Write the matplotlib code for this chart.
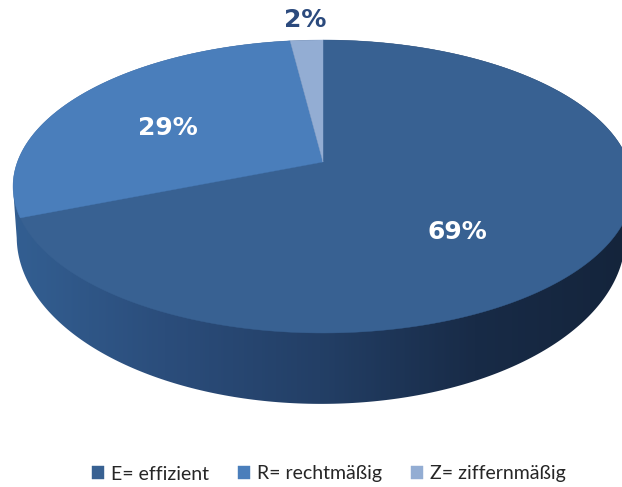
import numpy as np
import matplotlib; matplotlib.use('Agg')
import matplotlib.pyplot as plt
from matplotlib.colors import LinearSegmentedColormap
from matplotlib.patches import PathPatch, Polygon
from matplotlib.path import Path

labels = ['E= effizient', 'R= rechtmäßig', 'Z= ziffernmäßig']
values = [69, 29, 2]
colors = ['#386192', '#4a7ebb', '#93add3']
text_colors = ['white', 'white', '#2b4a7d']
text_pos = [(457, 232), (168, 128), (305, 20)]

W, H = 622, 487
APEX = (323, 162)


def project(u, v, x0=APEX[0], y0=APEX[1], a=142.4, b=0.1672, c=305.6):
    # tilted disc seen in perspective, unit circle -> pixels
    k = 1 + b * v
    return x0 + u * c / k, y0 - v * a / k


def rim(t1, t2, **kw):
    t = np.radians(np.linspace(t1, t2, 200))
    return np.column_stack(project(np.sin(t), np.cos(t), **kw))


plt.rcParams.update({'font.family': 'DejaVu Sans'})
fig = plt.figure(figsize=(6.22, 4.87), dpi=100)
ax = fig.add_axes([0, 0, 1, 1])
wedges, _ = ax.pie(values, colors=colors, startangle=90, counterclock=False)

# side wall first, the top face goes over it
LOW = dict(x0=321, y0=209, a=162.3, b=0.1672, c=300)
hull = np.vstack([rim(100, 260, **LOW), rim(260, 460)])
side_cmap = LinearSegmentedColormap.from_list('side', ['#335f92', '#2b4d7b', '#233f66', '#182b47', '#14243b'])
img = ax.imshow(np.linspace(0, 1, 300)[None, :], extent=(10, 630, 420, 30), cmap=side_cmap, aspect='auto', zorder=1)
img.set_clip_path(Polygon(hull, transform=ax.transData))

handles = []
for w, col, lab in zip(wedges, colors, labels):
    t = np.radians(np.linspace(w.theta1, w.theta2, 200))
    u = np.r_[0, np.cos(t), 0]
    v = np.r_[0, np.sin(t), 0]
    p = PathPatch(Path(np.column_stack(project(u, v))), fc=col, ec=col, lw=0.3, zorder=2, label=lab)
    ax.add_patch(p)
    handles.append(p)
    w.remove()

for val, col, (x, y) in zip(values, text_colors, text_pos):
    ax.text(x, y, f'{val}%', color=col, fontsize=18, fontweight='bold', ha='center', va='center', zorder=3)

ax.set_aspect('auto')
ax.set_xlim(0, W)
ax.set_ylim(H, 0)
ax.axis('off')
ax.legend(handles=handles, loc='center', bbox_to_anchor=(329 / W, 1 - 474 / H), ncol=3, frameon=False,
          prop={'family': 'Lato', 'size': 14}, labelcolor='#262626', handlelength=0.62, handleheight=0.62,
          handletextpad=0.35, columnspacing=1.5)
fig.savefig('out.png', dpi=100)
